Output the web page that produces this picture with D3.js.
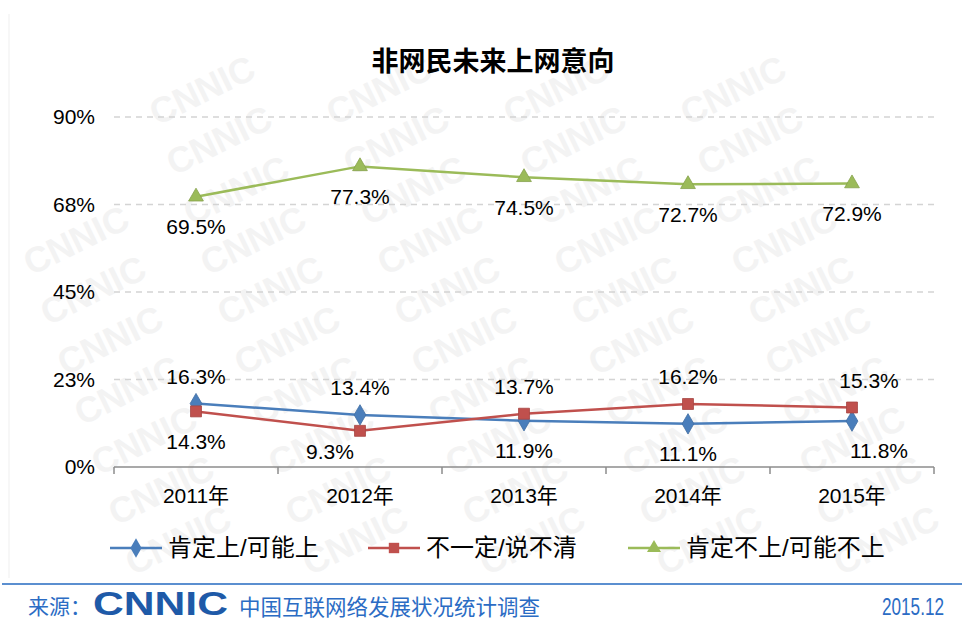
<!DOCTYPE html>
<html>
<head>
<meta charset="utf-8">
<script src="https://cdn.jsdelivr.net/npm/d3@7"></script>
<style>
  body { margin: 0; background: #fff; }
  svg text { font-family: "Liberation Sans", Arial, "Noto Sans CJK SC", sans-serif; }
</style>
</head>
<body>
<div id="chart"></div>
<script>
// data
var years = ["2011年", "2012年", "2013年", "2014年", "2015年"];
var sure = [16.3, 13.4, 11.9, 11.1, 11.8];        // 肯定上/可能上
var unsure = [14.3, 9.3, 13.7, 16.2, 15.3];       // 不一定/说不清
var never = [69.5, 77.3, 74.5, 72.7, 72.9];       // 肯定不上/可能不上
var tickValues = [0, 22.5, 45, 67.5, 90];
var tickLabels = ["0%", "23%", "45%", "68%", "90%"];
var seriesNames = ["肯定上/可能上", "不一定/说不清", "肯定不上/可能不上"];

// label placement: 1 = above the point, -1 = below; dx/dy nudges
var sureSide = [1, 1, -1, -1, -1];
var unsureSide = [-1, -1, 1, 1, 1];
var neverSide = [-1, -1, -1, -1, -1];
var sureDx = [0, 0, 0, 0, 27];
var unsureDx = [0, -30, 0, 0, 17];
var unsureDy = [0, -9, 0, 0, 0];

var W = 968, H = 621;
var margin = {top: 117, right: 34, bottom: 154, left: 114};

var svg = d3.select("#chart").append("svg")
    .attr("width", W)
    .attr("height", H);

// CNNIC watermark, only whole copies
var wm = svg.append("g").attr("fill", "#f3f3f3").attr("font-weight", "bold")
    .attr("font-size", 36).attr("font-family", "'DejaVu Sans', sans-serif");
for (var r = -2; r < 14; r++) {
  for (var c = -2; c < 6; c++) {
    var wx = 185 + 17 * r + 177 * c;
    var wy = 40 + 50 * r;
    if (wx < 62 || wx > W - 62 || wy < 60 || wy > H - 60) continue;
    wm.append("text")
      .attr("transform", "translate(" + wx + "," + wy + ") rotate(-26)")
      .attr("text-anchor", "middle")
      .attr("dy", "0.35em")
      .attr("textLength", 112).attr("lengthAdjust", "spacingAndGlyphs")
      .text("CNNIC");
  }
}
svg.append("line").attr("x1", 9).attr("x2", 9).attr("y1", 14).attr("y2", 578)
    .attr("stroke", "#efefef");

var x = d3.scaleBand()
    .domain(years)
    .range([margin.left, W - margin.right]);
var y = d3.scaleLinear()
    .domain([0, 90])
    .range([H - margin.bottom, margin.top]);

// title
svg.append("text")
    .attr("x", 493).attr("y", 62)
    .attr("dy", "0.35em")
    .attr("text-anchor", "middle")
    .attr("font-size", 27).attr("font-weight", "bold")
    .attr("font-family", "'Noto Sans CJK SC', sans-serif")
    .text("非网民未来上网意向");

// gridlines
svg.append("g").selectAll("line")
  .data(tickValues.slice(1))
  .enter().append("line")
    .attr("x1", margin.left).attr("x2", W - margin.right)
    .attr("y1", function(d) { return y(d); })
    .attr("y2", function(d) { return y(d); })
    .attr("stroke", "#d4d4d4")
    .attr("stroke-width", 1.5)
    .attr("stroke-dasharray", "6,5");

// y labels
svg.append("g").selectAll("text")
  .data(tickValues)
  .enter().append("text")
    .attr("x", 95)
    .attr("y", function(d) { return y(d); })
    .attr("dy", "0.35em")
    .attr("text-anchor", "end")
    .attr("font-size", 21)
    .text(function(d, i) { return tickLabels[i]; });

// x axis
var xAxis = svg.append("g")
    .attr("transform", "translate(0," + y(0) + ")");
xAxis.append("line")
    .attr("x1", margin.left).attr("x2", W - margin.right)
    .attr("stroke", "#8c8c8c").attr("stroke-width", 1.5);
var bounds = years.map(function(d) { return x(d); }).concat([W - margin.right]);
xAxis.selectAll(".tk").data(bounds).enter().append("line")
    .attr("x1", function(d) { return d; }).attr("x2", function(d) { return d; })
    .attr("y1", 0).attr("y2", 7)
    .attr("stroke", "#8c8c8c").attr("stroke-width", 1.5);
xAxis.selectAll(".xl").data(years).enter().append("text")
    .attr("x", function(d) { return x(d) + x.bandwidth() / 2; })
    .attr("y", 29)
    .attr("dy", "0.35em")
    .attr("text-anchor", "middle")
    .attr("font-size", 21)
    .text(function(d) { return d; });

var cx = function(d, i) { return x(years[i]) + x.bandwidth() / 2; };
var line = d3.line()
    .x(function(d, i) { return cx(d, i); })
    .y(function(d) { return y(d); });

var series = [
  {vals: sure, color: "#4a7ebb", marker: d3.symbolDiamond, size: 120, side: sureSide, dx: sureDx, dy: [0, 0, 0, 0, 0]},
  {vals: unsure, color: "#c0504d", marker: d3.symbolSquare, size: 120, side: unsureSide, dx: unsureDx, dy: unsureDy},
  {vals: never, color: "#9bbb59", marker: d3.symbolTriangle, size: 95, side: neverSide, dx: [0, 0, 0, 0, 0], dy: [0, 0, 0, 0, 0]}
];

series.forEach(function(s) {
  svg.append("path")
    .datum(s.vals)
    .attr("fill", "none")
    .attr("stroke", s.color)
    .attr("stroke-width", 2.5)
    .attr("d", line);
  svg.append("g").selectAll("path")
    .data(s.vals)
    .enter().append("path")
      .attr("transform", function(d, i) { return "translate(" + cx(d, i) + "," + y(d) + ")"; })
      .attr("d", d3.symbol().type(s.marker).size(s.size))
      .attr("fill", s.color)
      .attr("stroke", d3.rgb(s.color).darker(0.4))
      .attr("stroke-width", 0.8);
  svg.append("g").selectAll("text")
    .data(s.vals)
    .enter().append("text")
      .attr("x", function(d, i) { return cx(d, i) + s.dx[i]; })
      .attr("y", function(d, i) { return y(d) + (s.side[i] > 0 ? -27 : 30) + s.dy[i]; })
      .attr("dy", "0.35em")
      .attr("text-anchor", "middle")
      .attr("font-size", 21)
      .text(function(d) { return d.toFixed(1) + "%"; });
});

// legend
var legX = [110, 368, 628];
var leg = svg.append("g").attr("transform", "translate(0,548)");
series.forEach(function(s, i) {
  var g = leg.append("g").attr("transform", "translate(" + legX[i] + ",0)");
  g.append("line").attr("x1", 0).attr("x2", 52)
    .attr("stroke", s.color).attr("stroke-width", 2.5);
  g.append("path").attr("transform", "translate(26,0)")
    .attr("d", d3.symbol().type(s.marker).size(s.size * 0.9))
    .attr("fill", s.color);
  g.append("text").attr("x", 58).attr("dy", "0.35em")
    .attr("font-size", 24)
    .attr("font-family", "'Noto Sans CJK SC', sans-serif")
    .text(seriesNames[i]);
});

// footer
svg.append("line").attr("x1", 2).attr("x2", 962).attr("y1", 584).attr("y2", 584)
    .attr("stroke", "#5b8fd0").attr("stroke-width", 2);
var foot = svg.append("g").attr("fill", "#2b6cc4")
    .attr("font-family", "'Noto Sans CJK SC', sans-serif");
foot.append("text").attr("x", 28).attr("y", 607).attr("dy", "0.35em")
    .attr("font-size", 21).text("来源：");
foot.append("text").attr("x", 93).attr("y", 615).attr("font-size", 34)
    .attr("font-weight", "900").attr("fill", "#1e5aa8")
    .attr("font-family", "'DejaVu Sans', sans-serif")
    .attr("textLength", 135).attr("lengthAdjust", "spacingAndGlyphs")
    .text("CNNIC");
foot.append("text").attr("x", 239).attr("y", 607).attr("dy", "0.35em")
    .attr("font-size", 21.5).text("中国互联网络发展状况统计调查");
foot.append("text").attr("x", 944).attr("y", 607).attr("dy", "0.35em")
    .attr("text-anchor", "end")
    .attr("font-size", 23).attr("font-family", "'Liberation Sans', sans-serif")
    .attr("textLength", 62).attr("lengthAdjust", "spacingAndGlyphs")
    .text("2015.12");
</script>
</body>
</html>
